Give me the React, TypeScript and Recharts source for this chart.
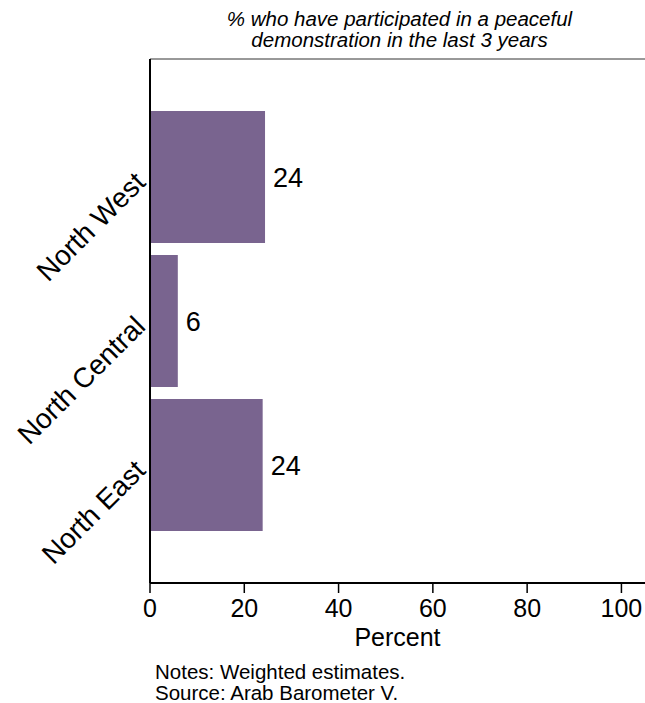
import { BarChart, Bar, XAxis, YAxis, LabelList } from 'recharts';

// valores
const regions = ['North West', 'North Central', 'North East'];
const percents = [24.4, 5.9, 23.9];
const valueLabels = ['24', '6', '24'];
const xTicks = [0, 20, 40, 60, 80, 100];

const titleLines = ['% who have participated in a peaceful', 'demonstration in the last 3 years'];
const noteLines = ['Notes: Weighted estimates.', 'Source: Arab Barometer V.'];

const data = regions.map((name, i) => ({ name, value: percents[i], label: valueLabels[i] }));

const FONT = '"Liberation Sans", Arial, Helvetica, sans-serif';
const BAR_COLOR = '#79648f';

const RegionTick = (props: any) => {
  const { x, y, payload } = props;
  const ax = x - 1;
  const ay = y + 7;
  return (
    <text
      x={ax}
      y={ay}
      transform={`rotate(-45, ${ax}, ${ay})`}
      textAnchor="end"
      fontSize={28}
      fontFamily={FONT}
      fill="#000"
    >
      {payload.value}
    </text>
  );
};

export default function App() {
  return (
    <div style={{ position: 'absolute', left: 0, top: 0, width: 645, height: 703, background: '#fff', fontFamily: FONT }}>
      <div style={{ position: 'absolute', left: 152, width: 495, top: 9, textAlign: 'center', fontStyle: 'italic', fontSize: 20.5, lineHeight: '20.5px', color: '#000' }}>
        {titleLines.map((l) => (
          <div key={l}>{l}</div>
        ))}
      </div>

      <BarChart
        width={645}
        height={703}
        data={data}
        layout="vertical"
        margin={{ top: 58, right: 0, left: 0, bottom: 0 }}
        barCategoryGap={6}
      >
        <XAxis
          xAxisId="top"
          orientation="top"
          type="number"
          domain={[0, 105]}
          height={1}
          tick={false}
          tickLine={false}
          axisLine={{ stroke: '#333', strokeWidth: 1 }}
        />
        <XAxis
          type="number"
          domain={[0, 105]}
          ticks={xTicks}
          height={120}
          tickSize={10}
          tickMargin={6}
          axisLine={{ stroke: '#000', strokeWidth: 2 }}
          tickLine={{ stroke: '#000', strokeWidth: 1.5 }}
          tick={{ fontSize: 25, fill: '#000', fontFamily: FONT }}
          allowDataOverflow
        />
        <YAxis
          type="category"
          dataKey="name"
          width={150}
          padding={{ top: 46, bottom: 46 }}
          tickLine={false}
          tickSize={0}
          axisLine={{ stroke: '#000', strokeWidth: 2 }}
          tick={<RegionTick />}
          interval={0}
        />
        <Bar dataKey="value" fill={BAR_COLOR} isAnimationActive={false}>
          <LabelList dataKey="label" position="right" offset={8} fontSize={27} fill="#000" fontFamily={FONT} />
        </Bar>
      </BarChart>

      <div style={{ position: 'absolute', left: 150, width: 495, top: 623, textAlign: 'center', fontSize: 25, color: '#000' }}>
        Percent
      </div>

      <div style={{ position: 'absolute', left: 155, top: 662, fontSize: 20.5, lineHeight: '20.5px', color: '#000' }}>
        {noteLines.map((l) => (
          <div key={l}>{l}</div>
        ))}
      </div>
    </div>
  );
}
